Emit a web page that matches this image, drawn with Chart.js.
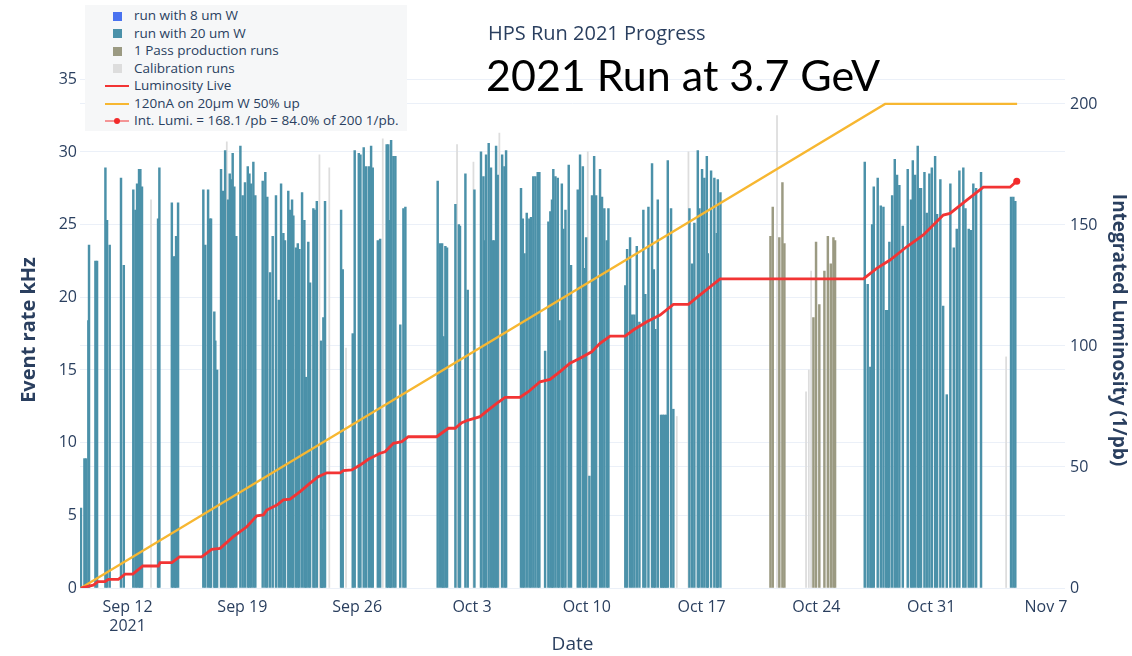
<!DOCTYPE html>
<html>
<head>
<meta charset="utf-8">
<title>HPS Run 2021 Progress</title>
<script src="https://cdn.jsdelivr.net/npm/chart.js@4.4.1/dist/chart.umd.min.js"></script>
<style>
  html, body { margin: 0; padding: 0; background: #fff; }
  #wrap { position: relative; width: 1132px; height: 656px; overflow: hidden; }
  #chart { position: absolute; left: 0; top: 0; }
  #legend {
    position: absolute; left: 85px; top: 5px; width: 322px; height: 126px;
    background: #f6f7f8; box-sizing: border-box; padding-top: 2px;
    font: 13.5px "Open Sans", sans-serif; color: #2a3f5f;
  }
  .item { position: relative; height: 17.5px; line-height: 17.5px; padding-left: 49px; white-space: nowrap; }
  .sym { position: absolute; }
  .sym.box { left: 27.5px; top: 4.5px; width: 9px; height: 9px; }
  .sym.line { left: 20px; top: 8px; width: 24px; height: 2px; }
  .sym.dot { left: 29px; top: 6px; width: 6px; height: 6px; border-radius: 50%; }
  #title { position: absolute; left: 488px; top: 19px; font: 20px "Open Sans", sans-serif; color: #2a3f5f; }
  #headline { position: absolute; left: 486px; top: 49px; font: 43px Lato, sans-serif; color: #000; line-height: 52px; }
</style>
</head>
<body>
<div id="wrap">
  <canvas id="chart" width="1132" height="656"></canvas>
  <div id="legend"></div>
  <div id="title">HPS Run 2021 Progress</div>
  <div id="headline">2021 Run at 3.7 GeV</div>
</div>
<script>
// x values are days counted from Sep 12 2021, 00:00
const tickDays = [0, 7, 14, 21, 28, 35, 42, 49, 56];
const tickLabels = [['Sep 12', '2021'], 'Sep 19', 'Sep 26', 'Oct 3', 'Oct 10', 'Oct 17', 'Oct 24', 'Oct 31', 'Nov 7'];

// event rate per run (kHz)
const w8Days = [];
const w8Rates = [];

const w20Days = [
  -2.84, -2.63, -2.53, -2.39, -2.35, -1.96, -1.86, -1.35, -1.25, -1.09, -0.40, -0.23,
  0.35, 0.48, 0.58, 0.70, 0.78, 0.88, 1.86, 1.94, 2.70, 2.79, 2.90, 2.96, 3.08,
  4.62, 4.74, 4.91, 5.03, 5.09, 5.29, 5.35, 5.46, 5.70, 5.82, 5.95, 6.13, 6.23, 6.33, 6.41, 6.51, 6.63,
  6.88, 7.02, 7.16, 7.33, 7.43, 7.53, 7.67, 7.79, 8.24, 8.40, 8.52, 8.69, 8.85, 9.05, 9.22, 9.36,
  9.50, 9.60, 9.80, 9.91, 10.03, 10.11, 10.27, 10.38, 10.48, 10.64, 10.78, 10.88, 11.02, 11.13,
  11.33, 11.41, 11.54, 11.80, 11.86, 11.94, 12.04, 13.02, 13.12, 13.73, 13.85, 14.10, 14.20,
  14.40, 14.54, 14.71, 14.85, 14.95, 15.26, 15.40, 15.80, 15.90, 16.01, 16.07, 16.21, 16.33,
  16.63, 16.82, 16.94, 18.91, 19.05, 19.18, 19.26, 19.38, 19.48, 19.99, 20.20, 20.27, 20.60, 20.74,
  21.15, 21.55, 21.70, 21.76, 21.86, 22.02, 22.16, 22.27, 22.37, 22.47, 22.57, 22.84, 22.98, 23.08,
  23.99, 24.10, 24.20, 24.34, 24.50, 24.60, 24.74, 24.87, 25.01, 25.11, 25.46, 25.66, 25.78, 25.88,
  25.96, 26.09, 26.23, 26.33, 26.48, 26.57, 26.70, 26.90, 27.04, 27.45, 27.59, 27.76, 27.85, 27.96,
  28.16, 28.32, 28.45, 28.57, 28.81, 28.93, 29.07, 29.22, 29.32, 30.35, 30.46, 30.64, 30.76, 30.90,
  31.05, 31.21, 31.45, 31.57, 31.76, 31.98, 32.09, 32.18, 32.33, 32.53, 32.63, 32.73, 32.84, 32.94,
  33.14, 33.28, 34.26, 34.42, 34.56, 34.77, 34.87, 35.03, 35.17, 35.32, 35.38, 35.58, 35.78, 35.93,
  35.99, 36.15, 44.95, 45.13, 45.29, 45.40, 45.50, 45.74, 45.93, 46.09, 46.25, 46.35, 46.45, 46.62,
  46.78, 46.92, 47.06, 47.27, 47.57, 47.77, 47.88, 48.02, 48.18, 48.28, 48.38, 48.59, 48.73, 48.89,
  49.04, 49.24, 49.36, 49.56, 49.73, 49.95, 50.17, 50.38, 50.56, 50.72, 50.96, 51.09, 51.29, 51.43,
  51.57, 51.74, 52.04, 53.87, 54.01, 54.13
];
const w20Rates = [
  5.5, 8.9, 8.9, 18.4, 23.6, 22.5, 22.5, 28.9, 25.3, 23.6, 28.2, 22.2,
  27.4, 26.0, 27.8, 28.8, 28.8, 27.6, 25.4, 28.9, 26.5, 22.8, 22.8, 24.2, 26.5,
  27.4, 23.6, 27.4, 25.4, 25.4, 19.0, 17.0, 15.0, 28.8, 27.3, 30.1, 26.7, 28.5, 28.1, 29.9, 27.6, 24.2,
  30.4, 27.0, 27.9, 29.0, 28.5, 27.8, 29.3, 27.0, 28.0, 28.6, 26.9, 21.7, 24.2, 27.0, 19.8, 27.8,
  24.4, 23.9, 27.3, 26.0, 26.7, 25.6, 23.4, 23.7, 23.3, 27.2, 25.3, 14.5, 23.8, 21.0,
  26.1, 26.0, 26.6, 17.0, 4.0, 18.6, 26.6, 26.0, 21.9, 17.5, 30.1, 29.9, 29.8,
  30.3, 29.0, 29.0, 30.4, 28.9, 23.9, 24.0, 30.5, 30.5, 25.3, 30.8, 29.7, 29.7,
  18.1, 26.1, 26.2, 28.0, 23.7, 23.7, 17.3, 23.5, 23.4, 26.4, 25.0, 24.9, 28.5, 20.5,
  27.4, 30.0, 28.3, 23.9, 29.8, 30.6, 28.9, 23.9, 23.9, 30.4, 28.4, 29.8, 29.0, 30.1,
  27.5, 25.4, 23.0, 25.8, 25.4, 25.5, 28.3, 28.3, 28.6, 28.6, 16.3, 25.2, 25.9, 26.7,
  28.8, 28.3, 28.2, 18.4, 27.8, 24.7, 26.0, 29.1, 22.2, 27.4, 29.8, 29.0, 22.0, 24.1,
  7.7, 27.0, 29.7, 27.0, 28.8, 26.9, 26.1, 23.9, 26.1, 20.8, 23.3, 24.1, 18.8, 18.8,
  23.5, 18.3, 26.0, 20.2, 26.2, 29.2, 21.9, 17.8, 26.7, 11.9, 11.9, 11.9, 11.9, 29.4,
  26.1, 12.3, 26.1, 22.3, 25.1, 30.1, 26.1, 28.8, 28.2, 29.7, 23.0, 28.7, 28.2, 24.4,
  28.1, 27.2, 29.3, 20.9, 15.2, 25.0, 27.6, 28.2, 26.3, 26.2, 19.1, 19.1, 23.8, 27.0,
  29.5, 28.4, 27.7, 24.9, 28.8, 26.7, 29.4, 28.4, 30.4, 27.5, 27.5, 28.6, 25.8, 28.5,
  28.9, 29.7, 25.7, 28.1, 19.4, 13.3, 27.8, 23.4, 24.7, 28.7, 28.9, 26.1, 24.7, 24.6,
  27.8, 27.5, 28.6, 26.9, 26.9, 26.6
];

const passDays = [39.20, 39.34, 39.74, 39.93, 40.05, 41.82, 41.98, 42.18, 42.49, 42.70, 42.88, 43.04, 43.14];
const passRates = [24.2, 26.2, 24.1, 27.9, 23.7, 18.6, 23.8, 19.5, 21.8, 24.2, 22.3, 24.1, 23.9];

const calibDays = [1.43, 6.05, 11.70, 12.30, 13.32, 15.56, 20.09, 21.09, 22.67, 28.06, 33.49, 34.20, 39.60, 41.37, 41.54, 41.68, 53.57];
const calibRates = [26.7, 30.7, 29.8, 28.9, 16.5, 30.9, 30.5, 29.3, 31.3, 30.0, 11.8, 30.0, 32.5, 13.5, 15.0, 21.8, 15.9];

// integrated luminosity (1/pb)
const lumiDays = [
  -2.85, -2.09, -1.80, -1.37, -1.17, -0.56, -0.15, 0.32, 0.93, 1.88, 1.98, 2.70, 3.16, 4.52,
  5.13, 5.64, 6.45, 7.27, 7.88, 8.28, 8.49, 9.10, 9.50, 9.91, 10.52, 11.13, 11.63, 12.15, 12.96,
  13.16, 13.67, 14.18, 14.68, 15.40, 15.70, 16.21, 16.72, 17.12, 18.85, 19.56, 19.97, 20.38, 20.78,
  21.49, 22.00, 22.51, 23.02, 23.93, 24.44, 25.15, 25.76, 26.37, 26.98, 27.59, 28.30, 28.81, 29.42,
  30.34, 30.84, 31.66, 32.47, 33.28, 34.20, 34.91, 36.13, 44.87, 45.68, 46.49, 47.51, 48.52, 49.74,
  50.15, 51.17, 52.18, 53.81, 54.22
];
const lumiValues = [
  0, 1.2, 2.6, 2.6, 3.6, 3.6, 5.7, 5.7, 9.1, 9.1, 10.5, 10.5, 12.9, 12.9,
  16.0, 16.4, 21.2, 25.3, 29.8, 30.2, 32.2, 34.3, 36.4, 36.7, 39.8, 43.3, 46.0, 47.6, 47.6,
  48.5, 48.8, 50.8, 53.2, 55.7, 56.3, 59.8, 60.5, 62.5, 62.5, 66.0, 66.0, 68.3, 69.4,
  70.8, 73.6, 76.3, 78.8, 78.8, 81.1, 85.2, 86.2, 89.4, 92.9, 94.9, 97.6, 101.1, 104.1,
  104.1, 106.6, 110.0, 112.8, 117.2, 117.2, 121.1, 127.7, 127.7, 132.1, 135.5, 141.0, 145.9, 154.1,
  154.8, 160.3, 165.6, 165.6, 168.1
];

// planned luminosity: 120 nA on 20 um W with 50% uptime
const goalDays = [-2.84, 46.19, 54.24];
const goalValues = [0, 200, 200];
const lumiGoal = 200;

const toPoints = (xs, ys) => xs.map((x, i) => ({ x: x, y: ys[i] }));

const lastLumi = lumiValues[lumiValues.length - 1];
const lastDay = lumiDays[lumiDays.length - 1];
const intLumiLabel = 'Int. Lumi. = ' + lastLumi.toFixed(1) + ' /pb = ' +
  (lastLumi / lumiGoal * 100).toFixed(1) + '% of ' + lumiGoal + ' 1/pb.';

Chart.defaults.font.family = '"Open Sans", sans-serif';
Chart.defaults.color = '#2a3f5f';

const gridColor = '#ebf0f8';
const runBar = { type: 'bar', yAxisID: 'y', stack: 'runs', order: 3, borderWidth: 0, barThickness: 1.8 };

const chart = new Chart(document.getElementById('chart'), {
  type: 'bar',
  data: {
    datasets: [
      { ...runBar, label: 'run with 8 um W', data: toPoints(w8Days, w8Rates), backgroundColor: '#4a72f0' },
      { ...runBar, label: 'run with 20 um W', data: toPoints(w20Days, w20Rates), backgroundColor: '#4b91a9' },
      { ...runBar, label: '1 Pass production runs', data: toPoints(passDays, passRates), backgroundColor: '#9b9a82' },
      { ...runBar, label: 'Calibration runs', data: toPoints(calibDays, calibRates), backgroundColor: '#dddddd', barThickness: 1.1 },
      {
        type: 'line', label: 'Luminosity Live', yAxisID: 'y1', order: 1,
        data: toPoints(lumiDays, lumiValues),
        borderColor: '#f23434', borderWidth: 2.8, pointRadius: 0, tension: 0
      },
      {
        type: 'line', label: '120nA on 20µm W 50% up', yAxisID: 'y1', order: 2,
        data: toPoints(goalDays, goalValues),
        borderColor: '#f7b731', borderWidth: 2.3, pointRadius: 0, tension: 0
      },
      {
        type: 'line', label: intLumiLabel, yAxisID: 'y1', order: 0,
        data: [{ x: lastDay, y: lastLumi }],
        borderColor: 'rgba(242, 52, 52, 0.5)', borderWidth: 2,
        pointRadius: 3.5, pointBackgroundColor: '#f22a2a', pointBorderWidth: 0
      }
    ]
  },
  options: {
    responsive: false,
    animation: false,
    events: [],
    layout: { padding: { top: 72, left: 0, right: 0, bottom: 0 } },
    plugins: {
      legend: { display: false },
      tooltip: { enabled: false }
    },
    scales: {
      x: {
        type: 'linear',
        min: -2.9,
        max: 57.16,
        bounds: 'data',
        offset: false,
        grid: { display: false },
        border: { display: false },
        afterBuildTicks: (scale) => { scale.ticks = tickDays.map(v => ({ value: v })); },
        afterFit: (scale) => { scale.height = 68; },
        ticks: {
          autoSkip: false, maxRotation: 0, padding: 2,
          font: { size: 16 },
          callback: (value, index) => tickLabels[index]
        },
        title: { display: true, text: 'Date', font: { size: 19 }, padding: { top: 0, bottom: 0 } }
      },
      y: {
        position: 'left',
        min: 0,
        max: 35.5,
        bounds: 'data',
        stacked: false,
        grid: { color: gridColor, drawTicks: false },
        border: { display: false },
        afterFit: (scale) => { scale.width = 80; },
        ticks: { stepSize: 5, includeBounds: false, padding: 3, font: { size: 16 } },
        title: { display: true, text: 'Event rate kHz', font: { size: 20, weight: 'bold' }, padding: { top: 17, bottom: 0 } }
      },
      y1: {
        position: 'right',
        min: 0,
        max: 213.2,
        bounds: 'data',
        grid: { color: gridColor, drawTicks: false },
        border: { display: false },
        afterFit: (scale) => { scale.width = 67; },
        ticks: { stepSize: 50, includeBounds: false, padding: 5, font: { size: 16 } },
        title: { display: true, text: 'Integrated Luminosity (1/pb)', font: { size: 19, weight: 'bold' }, padding: { top: 2, bottom: 0 } }
      }
    }
  }
});

// legend box in the top-left corner, built from the datasets
const legendBox = document.getElementById('legend');
chart.data.datasets.forEach((ds) => {
  const item = document.createElement('div');
  item.className = 'item';
  if (ds.type === 'line') {
    const line = document.createElement('span');
    line.className = 'sym line';
    line.style.background = ds.borderColor;
    item.appendChild(line);
    if (ds.pointRadius > 0) {
      const dot = document.createElement('span');
      dot.className = 'sym dot';
      dot.style.background = ds.pointBackgroundColor;
      item.appendChild(dot);
    }
  } else {
    const box = document.createElement('span');
    box.className = 'sym box';
    box.style.background = ds.backgroundColor;
    item.appendChild(box);
  }
  item.appendChild(document.createTextNode(ds.label));
  legendBox.appendChild(item);
});
</script>
</body>
</html>
